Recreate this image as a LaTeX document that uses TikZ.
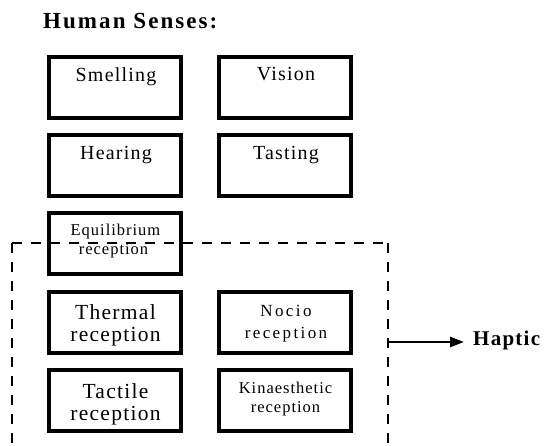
\documentclass[tikz,border=0pt]{standalone}
\usepackage{fontspec}
\setmainfont{Liberation Serif}
\newfontfamily\fTitle[LetterSpace=9]{Liberation Serif}
\newfontfamily\fBig[LetterSpace=6]{Liberation Serif}
\newfontfamily\fSm[LetterSpace=6]{Liberation Serif}
\newfontfamily\fNo[LetterSpace=14]{Liberation Serif}
\newfontfamily\fHap[LetterSpace=6]{Liberation Serif}
\usetikzlibrary{arrows.meta}
\begin{document}
\begin{tikzpicture}[x=1pt,y=-1pt,
  box/.style={draw, line width=4pt, inner sep=0pt, minimum height=61pt},
  lcol/.style={minimum width=132.6pt},
  rcol/.style={minimum width=132pt},
  txt/.style={anchor=base, inner sep=0pt},
  top/.style={font=\fBig\fontsize{20}{22}\selectfont},
  big/.style={font=\fBig\fontsize{21.5}{23}\selectfont},
  sm/.style={font=\fSm\fontsize{16.5}{18}\selectfont},
  no/.style={font=\fNo\fontsize{17}{19}\selectfont},
  frame/.style={line width=2pt, dash pattern=on 10pt off 9pt},
  conn/.style={line width=2.5pt, -{Triangle[length=14pt,width=10pt]}}
]
\useasboundingbox (0,0) rectangle (549,446);

% title
\node[anchor=base west, inner sep=0pt, font=\fTitle\bfseries\fontsize{23}{25}\selectfont] (title) at (43,28.3) {Human Senses:};

% boxes
\node[box, lcol] (smell) at (115,87.5) {};
\node[box, rcol] (vision) at (285,87.5) {};
\node[box, lcol] (hear) at (115,165.5) {};
\node[box, rcol] (taste) at (285,165.5) {};
\node[box, lcol] (equi) at (115,244) {};
\node[box, lcol] (therm) at (115,322.5) {};
\node[box, rcol] (nocio) at (285,322.5) {};
\node[box, lcol] (tact) at (115,400.5) {};
\node[box, rcol] (kin) at (285,400.5) {};

% texts
\node[txt, top] (tsmell) at (116,81.7) {Smelling};
\node[txt, top] (tvision) at (286,81) {Vision};
\node[txt, top] (thear) at (116,160) {Hearing};
\node[txt, top] (ttaste) at (286,160) {Tasting};
\node[txt, sm] (tequi1) at (115.5,236) {Equilibrium};
\node[txt, sm] (tequi2) at (113.5,255) {reception};
\node[txt, big] (ttherm1) at (115.5,319.3) {Thermal};
\node[txt, big] (ttherm2) at (115.5,341.7) {reception};
\node[txt, no] (tnocio1) at (286,317) {Nocio};
\node[txt, no] (tnocio2) at (286,338.3) {reception};
\node[txt, big] (ttact1) at (115.5,398) {Tactile};
\node[txt, big] (ttact2) at (115.5,420) {reception};
\node[txt, sm] (tkin1) at (285.5,393.3) {Kinaesthetic};
\node[txt, sm] (tkin2) at (285.5,412.7) {reception};

% dashed haptic frame (open at the bottom)
\coordinate (fTL) at (11.7,243.3);
\coordinate (fTR) at (388.3,243.3);
\coordinate (fBL) at (11.7,446);
\coordinate (fBR) at (388.3,446);
\draw[frame] (fTL) -- (fBL);
\draw[frame] (fTL) -- (fTR);
\draw[frame] (fTR) -- (fBR);

% haptic label and arrow
\node[anchor=base west, inner sep=0pt, font=\fHap\bfseries\fontsize{21}{23}\selectfont] (haptic) at (473,345) {Haptic};
\coordinate (hapsrc) at (388.3,342);
\coordinate (haptip) at (464,342);
\draw[conn] (hapsrc) -- (haptip);
\end{tikzpicture}
\end{document}
